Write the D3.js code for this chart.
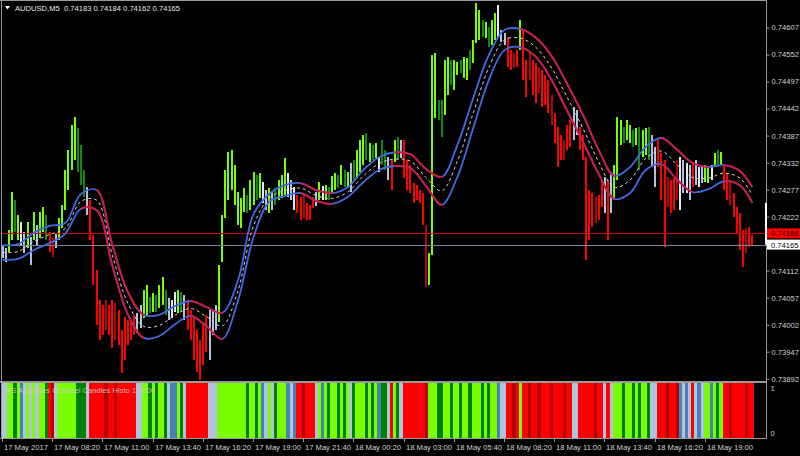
<!DOCTYPE html>
<html><head><meta charset="utf-8">
<script src="https://cdn.jsdelivr.net/npm/d3@7"></script>
<style>
body{margin:0;background:#000;}
svg{display:block;}
text{font-family:"Liberation Sans",Arial,sans-serif;}
</style>
</head><body>
<svg id="chart" width="800" height="456"></svg>
<script>
// ---------------- data ----------------
const symbol = "AUDUSD,M5";
const lastOHLC = ["0.74183", "0.74184", "0.74162", "0.74165"];
const askPrice = 0.74188;
const bidPrice = 0.74165;
const histoName = "MS Averages Channel Candles Histo 1.0000";
const priceTicks = [0.74607, 0.74552, 0.74497, 0.74442, 0.74387, 0.74332, 0.74277,
                    0.74222, 0.74112, 0.74057, 0.74002, 0.73947, 0.73892];
const histoTicks = [1, 0];
const timeLabels = ["17 May 2017", "17 May 08:20", "17 May 11:00", "17 May 13:40", "17 May 16:20",
  "17 May 19:00", "17 May 21:40", "18 May 00:20", "18 May 03:00", "18 May 05:40",
  "18 May 08:20", "18 May 11:00", "18 May 13:40", "18 May 16:20", "18 May 19:00"];
const barsPerTimeLabel = 16;

// bar highs / lows in units of 0.00001
const highs = [
74164,74158,74195,74272,74256,74225,74211,74191,74211,74180,
74231,74205,74231,74242,74225,74191,74178,74189,74219,74246,
74317,74358,74409,74425,74402,74368,74317,74282,74256,74185,
74113,74052,74042,74052,74042,74052,74046,74032,73991,74018,
74012,74007,74022,74026,74042,74073,74083,74058,74066,74062,
74083,74099,74073,74056,74052,74068,74073,74068,74062,74052,
74032,74016,73991,73971,74007,74022,74032,74032,74042,74123,
74225,74317,74353,74358,74327,74272,74260,74280,74266,74297,
74313,74307,74311,74292,74276,74280,74272,74280,74297,74307,
74341,74311,74297,74282,74266,74262,74266,74250,74246,74262,
74272,74292,74284,74286,74282,74305,74311,74307,74327,74317,
74313,74331,74337,74358,74378,74388,74392,74372,74368,74372,
74343,74378,74358,74343,74337,74378,74384,74378,74378,74337,
74327,74290,74286,74276,74270,74205,74148,74551,74555,74459,
74459,74541,74547,74541,74541,74537,74541,74547,74545,74561,
74582,74657,74643,74622,74618,74608,74622,74636,74653,74602,
74596,74588,74561,74555,74561,74622,74602,74541,74555,74541,
74535,74527,74520,74510,74500,74470,74433,74404,74388,74378,
74409,74419,74445,74439,74404,74388,74343,74276,74270,74262,
74266,74297,74303,74297,74313,74327,74425,74419,74404,74419,
74409,74398,74402,74404,74398,74402,74404,74388,74364,74378,
74351,74337,74303,74297,74301,74337,74343,74337,74331,74327,
74333,74337,74323,74323,74327,74323,74327,74351,74358,74353,
74327,74311,74297,74270,74242,74229,74195,74199,74201,74184
].map(v => v / 1e5);
const lows = [
74138,74130,74150,74174,74191,74174,74164,74148,74158,74123,
74174,74164,74178,74191,74174,74150,74140,74158,74174,74199,
74235,74276,74317,74337,74313,74286,74262,74225,74174,74083,
74001,73971,73981,73991,73981,73954,73971,73961,73904,73930,
73961,73971,73981,73985,73995,74016,74022,74026,74028,74028,
74036,74042,74022,74012,74016,74028,74026,74028,74012,73991,
73971,73930,73906,73889,73920,73946,73930,73981,73991,74007,
74130,74219,74256,74276,74246,74205,74199,74231,74229,74235,
74246,74256,74260,74250,74235,74229,74235,74246,74256,74260,
74266,74262,74256,74235,74229,74215,74219,74215,74215,74240,
74244,74256,74256,74256,74256,74272,74276,74280,74286,74282,
74280,74272,74297,74301,74313,74327,74337,74333,74337,74341,
74313,74327,74317,74297,74276,74333,74337,74341,74301,74276,
74270,74250,74256,74250,74205,74079,74083,74144,74423,74419,
74384,74429,74470,74490,74480,74510,74514,74504,74500,74520,
74535,74575,74582,74588,74586,74567,74571,74582,74586,74577,
74571,74527,74520,74525,74527,74561,74500,74465,74500,74470,
74453,74474,74445,74449,74433,74409,74372,74323,74337,74337,
74358,74364,74378,74388,74358,74337,74134,74174,74201,74209,
74215,74242,74229,74174,74229,74256,74297,74368,74372,74378,
74372,74364,74368,74317,74343,74347,74337,74323,74282,74323,
74256,74160,74242,74229,74235,74256,74235,74270,74270,74256,
74282,74286,74282,74290,74292,74290,74297,74323,74323,74327,
74276,74256,74246,74221,74189,74154,74119,74148,74160,74162
].map(v => v / 1e5);
// state per bar: L strong up, g weak up, R strong down, r weak down, b / s neutral
const states = (
"bbLLgLsbLb" + "LbLLgRrbLL" + "LLLLgggbRR" + "RRRrRRrRRR" + "RRRbbLLgLg" +
"LLgbssLgbR" + "RRRRRRbbbL" + "LLLLLLLLgL" + "LgLsbLbgLL" + "LsbsRRrRRR" +
"bLsLgLLgLg" + "LbgLLLgLgL" + "sggbRLgbRR" + "RRRRRrLLLg" + "gLLgLLgLLg" +
"LLLgLgLLsb" + "bRRrRLRRrR" + "RrRRRrRRRr" + "RRbbRRRRRr" + "RRbRbLLLgL" +
"LgLgLLgbbR" + "RRrRRrsbsb" + "RbsbLLsLgL" + "RRrRRRRrRR").split("");

// channel lines sampled every 5 bars (last sample = last bar), units of 0.00001
const channelStep = 5;
const channelUpper = [
74164,74166,74189,74203,74209,74268,74276,74164,74068,74022,
74022,74040,74050,74038,74026,74091,74227,74268,74286,74290,
74276,74270,74282,74317,74343,74353,74349,74319,74303,74368,
74463,74551,74602,74604,74586,74549,74492,74429,74358,74305,
74323,74364,74382,74358,74331,74323,74327,74315,74282
].map(v => v / 1e5);
const channelLower = [
74134,74136,74154,74168,74187,74238,74235,74123,74022,73975,
73979,74003,74020,73999,73973,74050,74180,74252,74264,74270,
74254,74248,74262,74292,74317,74325,74321,74284,74246,74303,
74402,74500,74561,74567,74547,74500,74437,74374,74309,74258,
74270,74317,74329,74297,74272,74278,74294,74286,74250
].map(v => v / 1e5);

const candleColors = {L:"#7CFC00", g:"#0E8A0E", R:"#FF0000", r:"#B40000", b:"#B0C4DE", s:"#E4EAF3"};
const histoColors  = {L:"#7CFC00", g:"#008000", R:"#FF0000", r:"#B00000", b:"#B0C4DE", s:"#4682B4"};
const riseColor = "#4169E1", fallColor = "#DC143C";

// ---------------- layout ----------------
const svg = d3.select("#chart");
const N = highs.length;
const plotL = 2, axisX = 766;
const mainBottom = 381, histTop = 383, histBottom = 438;
const gridColor = "#9A9A9A", textColor = "#D4D4D4", fontSize = 7.6;

svg.append("rect").attr("width", 800).attr("height", 456).attr("fill", "#000");

const x = d3.scaleLinear().domain([0, N - 1]).range([2.5, 752.4]);
const step = x(1) - x(0);
const y = d3.scaleLinear().domain([0.738873, 0.74663]).range([mainBottom, 0]);
const hy = d3.scaleLinear().domain([0, 1]).range([histBottom, histTop]);

const clipMain = svg.append("clipPath").attr("id", "clipMain");
clipMain.append("rect").attr("x", plotL).attr("y", 1).attr("width", axisX - plotL).attr("height", mainBottom - 1);
const main = svg.append("g").attr("clip-path", "url(#clipMain)");

// candles
main.append("g").attr("shape-rendering", "crispEdges").selectAll("rect")
  .data(d3.range(N)).join("rect")
  .attr("x", i => Math.round(x(i)) - 1)
  .attr("width", 2)
  .attr("y", i => y(highs[i]))
  .attr("height", i => Math.max(1, y(lows[i]) - y(highs[i])))
  .attr("fill", i => candleColors[states[i]]);

// ask / bid lines
main.append("line").attr("x1", plotL).attr("x2", axisX).attr("y1", Math.round(y(askPrice)) + 0.5)
  .attr("y2", Math.round(y(askPrice)) + 0.5).attr("stroke", "#D00000").attr("stroke-width", 1);
main.append("line").attr("x1", plotL).attr("x2", axisX).attr("y1", Math.round(y(bidPrice)) + 0.5)
  .attr("y2", Math.round(y(bidPrice)) + 0.5).attr("stroke", "#778899").attr("stroke-width", 1);

// channel
const chIdx = k => Math.min(k * channelStep, N - 1);
const curve = d3.line().curve(d3.curveCatmullRom.alpha(0.5));
function drawBand(values, id) {
  const pts = values.map((v, k) => [x(chIdx(k)), y(v)]);
  main.append("path").attr("d", curve(pts)).attr("fill", "none")
    .attr("stroke", riseColor).attr("stroke-width", 1.8);
  const cp = svg.append("clipPath").attr("id", id);
  for (let k = 0; k < values.length - 1; k++) {
    if (values[k + 1] < values[k]) {
      cp.append("rect").attr("x", x(chIdx(k))).attr("y", 0)
        .attr("width", x(chIdx(k + 1)) - x(chIdx(k)) + 0.5).attr("height", mainBottom);
    }
  }
  main.append("path").attr("d", curve(pts)).attr("fill", "none")
    .attr("stroke", fallColor).attr("stroke-width", 1.8).attr("clip-path", `url(#${id})`);
}
const mid = channelUpper.map((u, k) => (u + channelLower[k]) / 2);
main.append("path").attr("d", curve(mid.map((v, k) => [x(chIdx(k)), y(v)])))
  .attr("fill", "none").attr("stroke", "#D8D8D8").attr("stroke-width", 1).attr("stroke-dasharray", "3,3");
drawBand(channelUpper, "clipUp");
drawBand(channelLower, "clipLo");

// histogram
svg.append("g").attr("shape-rendering", "crispEdges").selectAll("rect")
  .data(d3.range(N)).join("rect")
  .attr("x", i => Math.round(x(i) - step / 2))
  .attr("width", i => Math.round(x(i) + step / 2) - Math.round(x(i) - step / 2))
  .attr("y", hy(1)).attr("height", hy(0) - hy(1))
  .attr("fill", i => histoColors[states[i]]);
svg.append("text").attr("x", 5).attr("y", 393).attr("fill", "#CFCFCF").attr("font-size", fontSize)
  .attr("opacity", 0.9).text(histoName);

// frame lines
const frame = svg.append("g").attr("stroke", gridColor).attr("stroke-width", 1).attr("shape-rendering", "crispEdges");
frame.append("line").attr("x1", 0).attr("x2", axisX).attr("y1", 0.5).attr("y2", 0.5);
frame.append("line").attr("x1", 1.5).attr("x2", 1.5).attr("y1", 0).attr("y2", histBottom);
frame.append("line").attr("x1", 0).attr("x2", axisX).attr("y1", mainBottom + 0.5).attr("y2", mainBottom + 0.5);
frame.append("line").attr("x1", 0).attr("x2", axisX).attr("y1", histTop - 0.5).attr("y2", histTop - 0.5);
frame.append("line").attr("x1", 0).attr("x2", axisX).attr("y1", histBottom + 0.5).attr("y2", histBottom + 0.5);
frame.append("line").attr("x1", axisX + 0.5).attr("x2", axisX + 0.5).attr("y1", 0).attr("y2", histBottom + 1);

// price axis
const pAxis = svg.append("g").attr("transform", `translate(${axisX + 0.5},0)`)
  .call(d3.axisRight(y).tickValues(priceTicks).tickSize(3).tickPadding(2).tickFormat(d3.format(".5f")));
pAxis.select(".domain").remove();
pAxis.selectAll("line").attr("stroke", gridColor);
pAxis.selectAll("text").attr("fill", textColor).attr("font-size", fontSize)
  .attr("font-family", "'Liberation Sans',Arial,sans-serif");

// histogram axis
const hAxis = svg.append("g").attr("transform", `translate(${axisX + 0.5},0)`);
hAxis.selectAll("text").data(histoTicks).join("text")
  .attr("x", 4).attr("y", d => d === 1 ? hy(d) + 8 : hy(d) - 2)
  .attr("fill", textColor).attr("font-size", fontSize).text(d => d);

// mark on axis
svg.append("rect").attr("x", axisX - 1).attr("width", 2).attr("y", y(0.74250))
  .attr("height", y(bidPrice) - y(0.74250)).attr("fill", "#FFFFFF");

// ask / bid labels
function priceTag(p, bg, fg) {
  const g = svg.append("g").attr("transform", `translate(${axisX + 1},${y(p)})`);
  g.append("rect").attr("x", 0).attr("y", -5).attr("width", 34).attr("height", 10).attr("fill", bg);
  g.append("text").attr("x", 4).attr("y", 3).attr("fill", fg).attr("font-size", fontSize)
    .text(d3.format(".5f")(p));
}
priceTag(askPrice, "#FF0000", "#1A0000");
priceTag(bidPrice, "#FFFFFF", "#000000");

// time axis
const tAxis = svg.append("g");
timeLabels.forEach((lab, k) => {
  const tx = Math.round(x(k * barsPerTimeLabel) - 0.5) + 0.5;
  tAxis.append("line").attr("x1", tx).attr("x2", tx).attr("y1", histBottom).attr("y2", histBottom + 4)
    .attr("stroke", gridColor);
  tAxis.append("text").attr("x", tx + 1.5).attr("y", 450).attr("fill", textColor)
    .attr("font-size", fontSize).text(lab);
});

// header
svg.append("path").attr("d", "M5,6 L10,6 L7.5,9.5 Z").attr("fill", "#FFFFFF");
svg.append("text").attr("x", 15).attr("y", 11).attr("fill", "#E8E8E8").attr("font-size", fontSize)
  .attr("xml:space", "preserve").style("white-space", "pre")
  .text(`${symbol}  ${lastOHLC.join(" ")}`);
</script>
</body></html>
